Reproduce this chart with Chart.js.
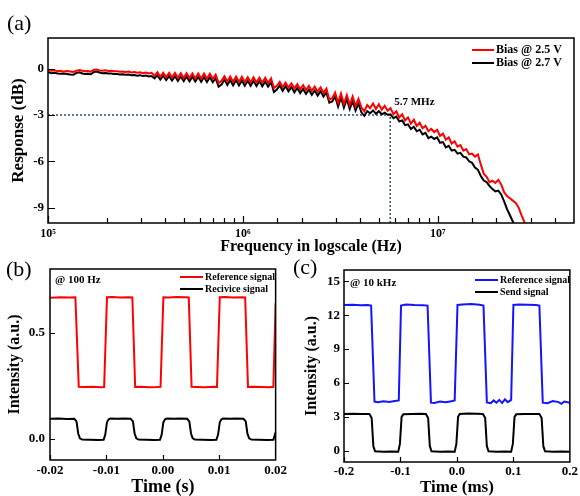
<!DOCTYPE html>
<html>
<head>
<meta charset="utf-8">
<script src="https://cdn.jsdelivr.net/npm/chart.js@4.4.1/dist/chart.umd.min.js"></script>
<style>
  html, body { margin: 0; padding: 0; background: #fff; overflow: hidden; }
  #wrap { position: relative; width: 580px; height: 496px; overflow: hidden; }
  canvas { position: absolute; }
</style>
</head>
<body>
<div id="wrap">
  <canvas id="chartA" width="580" height="258" style="left:0;top:0"></canvas>
  <canvas id="chartB" width="290" height="245" style="left:0;top:255px"></canvas>
  <canvas id="chartC" width="290" height="245" style="left:290px;top:255px"></canvas>
</div>
<script>
// (a) frequency response
const freqKHz = [
  100, 104, 108, 112, 116, 120, 125, 130, 135, 140,
  145, 150, 155, 160, 166, 172, 178, 184, 190, 197,
  204, 211, 218, 226, 234, 242, 250, 259, 268, 277,
  287, 297, 307, 318, 329, 340, 352, 364, 377, 390,
  404, 418, 433, 448, 464, 480, 497, 514, 532, 551,
  570, 590, 611, 632, 654, 677, 701, 725, 751, 777,
  804, 832, 861, 891, 923, 955, 988, 1023, 1059, 1096,
  1134, 1174, 1215, 1258, 1302, 1347, 1395, 1443, 1494, 1546,
  1600, 1656, 1714, 1775, 1837, 1901, 1968, 2037, 2108, 2182,
  2258, 2337, 2419, 2504, 2592, 2683, 2777, 2874, 2974, 3079,
  3187, 3298, 3414, 3533, 3657, 3785, 3918, 4055, 4197, 4344,
  4496, 4654, 4817, 4985, 5160, 5341, 5528, 5721, 5922, 6129,
  6344, 6566, 6796, 7034, 7280, 7535, 7799, 8072, 8355, 8647,
  8950, 9263, 9588, 9924, 10271, 10631, 11003, 11388, 11787, 12199,
  12626, 13068, 13526, 13999, 14489, 14996, 15521, 16065, 16627, 17209,
  17811, 18434, 19080, 19748, 20439, 21154, 21894, 22661, 23454, 24275,
  25125, 26004, 26914, 27856, 28800
];
const bias25Db = [
  -0.05, -0.12, -0.10, -0.15, -0.13, -0.18, -0.14, -0.17, -0.20, -0.12,
  -0.08, -0.13, -0.16, -0.14, -0.18, -0.06, -0.04, -0.10, -0.12, -0.09,
  -0.14, -0.12, -0.16, -0.15, -0.19, -0.17, -0.21, -0.18, -0.23, -0.20,
  -0.25, -0.22, -0.28, -0.24, -0.30, -0.26, -0.45, -0.22, -0.52, -0.25,
  -0.55, -0.26, -0.57, -0.27, -0.58, -0.28, -0.60, -0.28, -0.60, -0.30,
  -0.62, -0.30, -0.63, -0.31, -0.64, -0.32, -0.65, -0.38, -0.92, -0.78,
  -0.48, -0.82, -0.50, -0.84, -0.50, -0.85, -0.52, -0.86, -0.54, -0.88,
  -0.55, -0.89, -0.57, -0.90, -0.58, -0.92, -0.62, -1.25, -1.10, -0.85,
  -1.18, -0.90, -1.22, -0.95, -1.28, -1.00, -1.33, -1.05, -1.38, -1.10,
  -1.43, -1.15, -1.48, -1.20, -1.55, -1.28, -2.00, -1.90, -1.55, -2.20,
  -1.60, -2.28, -1.70, -2.35, -1.80, -2.42, -1.95, -2.50, -2.75, -2.35,
  -2.55, -2.25, -2.60, -2.30, -2.65, -2.40, -2.72, -2.55, -2.95, -2.75,
  -3.15, -2.95, -3.35, -3.15, -3.55, -3.30, -3.70, -3.50, -3.85, -3.70,
  -4.05, -3.90, -4.10, -3.95, -4.35, -4.20, -4.60, -4.45, -4.85, -4.70,
  -5.05, -4.95, -5.30, -5.20, -5.55, -5.50, -5.70, -5.55, -6.20, -6.80,
  -7.00, -7.35, -7.25, -7.40, -7.20, -7.50, -8.00, -8.25, -8.40, -8.55,
  -8.70, -9.00, -9.50, -9.95, -10.30
];
const bias27Db = [
  -0.20, -0.28, -0.25, -0.30, -0.32, -0.30, -0.33, -0.36, -0.38, -0.27,
  -0.22, -0.30, -0.33, -0.32, -0.35, -0.20, -0.18, -0.24, -0.28, -0.27,
  -0.30, -0.31, -0.33, -0.34, -0.36, -0.35, -0.39, -0.37, -0.42, -0.40,
  -0.44, -0.41, -0.47, -0.43, -0.50, -0.47, -0.62, -0.42, -0.70, -0.45,
  -0.73, -0.47, -0.76, -0.48, -0.78, -0.50, -0.80, -0.49, -0.81, -0.51,
  -0.83, -0.52, -0.84, -0.53, -0.86, -0.54, -0.87, -0.60, -1.15, -1.02,
  -0.70, -1.05, -0.72, -1.07, -0.73, -1.08, -0.75, -1.09, -0.77, -1.10,
  -0.78, -1.12, -0.80, -1.13, -0.82, -1.15, -0.86, -1.50, -1.35, -1.08,
  -1.42, -1.12, -1.46, -1.18, -1.52, -1.24, -1.57, -1.30, -1.62, -1.35,
  -1.68, -1.40, -1.73, -1.45, -1.80, -1.52, -2.20, -2.12, -1.80, -2.45,
  -1.85, -2.52, -1.95, -2.60, -2.08, -2.70, -2.25, -2.82, -3.05, -2.75,
  -2.88, -2.70, -2.92, -2.75, -2.95, -2.85, -2.98, -2.95, -3.20, -3.10,
  -3.40, -3.35, -3.65, -3.60, -3.90, -3.75, -4.05, -3.95, -4.25, -4.15,
  -4.50, -4.40, -4.55, -4.45, -4.80, -4.75, -5.10, -5.00, -5.30, -5.25,
  -5.50, -5.45, -5.70, -5.75, -6.00, -6.10, -6.40, -6.55, -6.95, -7.25,
  -7.35, -7.60, -7.80, -7.95, -7.90, -8.15, -8.60, -9.10, -9.50, -9.90,
  -10.30, -10.80, -11.30, -11.80, -12.20
];
const cutoffFreqHz = 5.7e6;
const cutoffDb = -3;
const dbTicks = [0, -3, -6, -9];

// (b) 100 Hz signals (time in s)
const refTimeB = [
  -0.0200, -0.0180, -0.0165, -0.0155, -0.0149, -0.0140, -0.0125, -0.0110, -0.0104, -0.0099,
  -0.0090, -0.0075, -0.0060, -0.0054, -0.0049, -0.0040, -0.0025, -0.0010, -0.0004, 0.0001,
  0.0010, 0.0025, 0.0040, 0.0046, 0.0051, 0.0060, 0.0075, 0.0090, 0.0096, 0.0101,
  0.0110, 0.0125, 0.0140, 0.0146, 0.0151, 0.0160, 0.0175, 0.0190, 0.0196, 0.0200
];
const refSignalB = [
  0.665, 0.667, 0.666, 0.667, 0.245, 0.244, 0.245, 0.243, 0.244, 0.667,
  0.668, 0.666, 0.667, 0.666, 0.244, 0.245, 0.243, 0.244, 0.245, 0.667,
  0.666, 0.668, 0.667, 0.666, 0.245, 0.244, 0.243, 0.245, 0.244, 0.667,
  0.668, 0.666, 0.667, 0.666, 0.244, 0.245, 0.244, 0.243, 0.245, 0.640
];
const recvTimeB = [
  -0.0200, -0.0185, -0.0170, -0.0157, -0.0153, -0.0150, -0.0147, -0.0143, -0.0130, -0.0115,
  -0.0105, -0.0102, -0.0099, -0.0096, -0.0093, -0.0080, -0.0070, -0.0057, -0.0053, -0.0050,
  -0.0047, -0.0043, -0.0030, -0.0015, -0.0005, -0.0002, 0.0001, 0.0004, 0.0007, 0.0020,
  0.0030, 0.0043, 0.0047, 0.0050, 0.0053, 0.0057, 0.0070, 0.0085, 0.0095, 0.0098,
  0.0101, 0.0104, 0.0107, 0.0120, 0.0130, 0.0143, 0.0147, 0.0150, 0.0153, 0.0157,
  0.0170, 0.0185, 0.0196, 0.0200
];
const recvSignalB = [
  0.094, 0.095, 0.093, 0.094, 0.082, 0.025, 0.002, -0.004, -0.005, -0.006,
  -0.005, 0.020, 0.078, 0.092, 0.095, 0.094, 0.095, 0.094, 0.082, 0.025,
  0.002, -0.004, -0.005, -0.006, -0.005, 0.020, 0.078, 0.092, 0.095, 0.094,
  0.095, 0.094, 0.082, 0.025, 0.002, -0.004, -0.005, -0.006, -0.005, 0.020,
  0.078, 0.092, 0.095, 0.094, 0.095, 0.094, 0.082, 0.025, 0.002, -0.004,
  -0.005, -0.006, -0.005, 0.030
];
const intensityTicksB = [0, 0.5];

// (c) 10 kHz signals (time in ms)
const refTimeC = [
  -0.200, -0.185, -0.170, -0.158, -0.152, -0.146, -0.140, -0.130, -0.120, -0.110,
  -0.103, -0.099, -0.090, -0.075, -0.060, -0.052, -0.046, -0.040, -0.030, -0.020,
  -0.010, -0.004, 0.001, 0.010, 0.025, 0.040, 0.047, 0.053, 0.060, 0.065,
  0.070, 0.075, 0.080, 0.085, 0.090, 0.096, 0.100, 0.110, 0.125, 0.140,
  0.146, 0.152, 0.160, 0.170, 0.180, 0.185, 0.190, 0.200
];
const refSignalC = [
  12.90, 12.92, 12.88, 12.90, 12.85, 4.35, 4.30, 4.38, 4.32, 4.40,
  4.45, 12.85, 12.95, 12.90, 12.88, 12.85, 4.25, 4.22, 4.35, 4.30,
  4.38, 4.45, 12.90, 12.95, 12.98, 12.92, 12.85, 4.28, 4.20, 4.45,
  4.25, 4.50, 4.22, 4.55, 4.30, 4.50, 12.90, 12.95, 12.92, 12.90,
  12.85, 4.25, 4.20, 4.40, 4.30, 4.15, 4.35, 4.25
];
const sendTimeC = [
  -0.200, -0.185, -0.170, -0.155, -0.151, -0.148, -0.145, -0.130, -0.115, -0.104,
  -0.101, -0.098, -0.095, -0.080, -0.065, -0.055, -0.051, -0.048, -0.045, -0.030,
  -0.015, -0.004, -0.001, 0.002, 0.005, 0.020, 0.035, 0.046, 0.050, 0.053,
  0.056, 0.070, 0.085, 0.096, 0.099, 0.102, 0.105, 0.120, 0.135, 0.146,
  0.150, 0.153, 0.156, 0.170, 0.185, 0.200
];
const sendSignalC = [
  3.25, 3.28, 3.26, 3.25, 2.90, 0.40, -0.05, -0.10, -0.08, -0.10,
  0.60, 3.00, 3.22, 3.25, 3.28, 3.25, 2.90, 0.40, -0.05, -0.10,
  -0.08, -0.10, 0.60, 3.00, 3.25, 3.30, 3.28, 3.25, 2.90, 0.40,
  -0.05, -0.10, -0.08, -0.10, 0.60, 3.00, 3.22, 3.25, 3.26, 3.25,
  2.90, 0.40, -0.05, -0.10, -0.08, -0.10
];
const intensityTicksC = [0, 3, 6, 9, 12, 15];

const SERIF = '"Liberation Serif", "Times New Roman", serif';
Chart.defaults.font.family = SERIF;
Chart.defaults.color = "#000";
const SUP = ["⁰", "¹", "²", "³", "⁴", "⁵", "⁶", "⁷", "⁸", "⁹"];

function pairs(xs, ys, scaleX) {
  return xs.map((x, i) => ({ x: x * (scaleX || 1), y: ys[i] }));
}

// box around the plot + inward tick marks
const frame = {
  id: "frame",
  afterDatasetsDraw(chart, args, opts) {
    const { ctx, chartArea: a } = chart;
    const sx = chart.scales.x;
    const sy = chart.scales.y;
    ctx.save();
    ctx.strokeStyle = "#000";
    ctx.lineWidth = 1.5;
    ctx.strokeRect(a.left, a.top, a.right - a.left, a.bottom - a.top);
    ctx.lineWidth = 1.2;
    ctx.beginPath();
    sx.ticks.forEach((t) => {
      const px = Math.round(sx.getPixelForValue(t.value)) + 0.5;
      if (px < a.left || px > a.right) return;
      const len = t.label ? opts.majorLen : opts.minorLen;
      ctx.moveTo(px, a.bottom);
      ctx.lineTo(px, a.bottom - len);
    });
    sy.ticks.forEach((t) => {
      const py = Math.round(sy.getPixelForValue(t.value)) + 0.5;
      ctx.moveTo(a.left, py);
      ctx.lineTo(a.left + opts.majorLen, py);
    });
    ctx.stroke();
    ctx.restore();
  },
};

// legend drawn inside the plot, plus free text
const key = {
  id: "key",
  afterDraw(chart, args, opts) {
    const ctx = chart.ctx;
    ctx.save();
    ctx.textBaseline = "middle";
    ctx.textAlign = "left";
    chart.data.datasets
      .filter((d) => d.label)
      .forEach((d, i) => {
        const y = opts.y + i * opts.gap;
        ctx.strokeStyle = d.borderColor;
        ctx.lineWidth = 2;
        ctx.beginPath();
        ctx.moveTo(opts.x, y);
        ctx.lineTo(opts.x + opts.len, y);
        ctx.stroke();
        ctx.fillStyle = "#000";
        ctx.font = opts.font;
        ctx.fillText(d.label, opts.x + opts.len + 2, y);
      });
    (opts.notes || []).forEach((n) => {
      ctx.font = n.font;
      ctx.fillStyle = "#000";
      ctx.fillText(n.text, n.x, n.y);
    });
    ctx.restore();
  },
};

// "5.7 MHz" placed next to the -3 dB point
const cutoffText = {
  id: "cutoffText",
  afterDatasetsDraw(chart, args, opts) {
    const ctx = chart.ctx;
    const x = chart.scales.x.getPixelForValue(cutoffFreqHz);
    const y = chart.scales.y.getPixelForValue(cutoffDb);
    ctx.save();
    ctx.font = opts.font;
    ctx.fillStyle = "#000";
    ctx.textBaseline = "middle";
    ctx.fillText((cutoffFreqHz / 1e6).toFixed(1) + " MHz", x + opts.dx, y + opts.dy);
    ctx.restore();
  },
};

function yAxis(min, max, tickList, width, title, titleSize, titlePad, tickPad, fmt) {
  return {
    type: "linear",
    min: min,
    max: max,
    afterBuildTicks: (s) => { s.ticks = tickList.map((v) => ({ value: v })); },
    afterFit: (s) => { s.width = width; },
    grid: { display: false, drawTicks: false },
    border: { display: false },
    ticks: {
      padding: tickPad,
      font: { size: 13, weight: "bold" },
      callback: fmt,
    },
    title: {
      display: true,
      text: title,
      font: { size: titleSize, weight: "bold" },
      padding: { top: titlePad, bottom: 0 },
    },
  };
}

// ---------- (a)
new Chart(document.getElementById("chartA"), {
  type: "line",
  data: {
    datasets: [
      {
        label: "Bias @ 2.5 V",
        data: pairs(freqKHz, bias25Db, 1000),
        borderColor: "#ff0000",
        borderWidth: 2,
        pointRadius: 0,
      },
      {
        label: "Bias @ 2.7 V",
        data: pairs(freqKHz, bias27Db, 1000),
        borderColor: "#000000",
        borderWidth: 2,
        pointRadius: 0,
      },
      {
        data: [
          { x: 1e5, y: cutoffDb },
          { x: cutoffFreqHz, y: cutoffDb },
          { x: cutoffFreqHz, y: -10 },
        ],
        borderColor: "#2d4d80",
        borderWidth: 1.5,
        borderDash: [2, 2],
        pointRadius: 0,
      },
    ],
  },
  options: {
    responsive: false,
    animation: false,
    devicePixelRatio: 1,
    layout: { padding: { top: 38, right: 6, left: 0, bottom: 0 } },
    scales: {
      x: {
        type: "logarithmic",
        min: 1e5,
        max: 5e7,
        afterFit: (s) => { s.height = 35; },
        grid: { display: false, drawTicks: false },
        border: { display: false },
        ticks: {
          autoSkip: false,
          maxRotation: 0,
          padding: 4,
          font: { size: 12, weight: "bold" },
          callback: (v) => {
            const e = Math.log10(v);
            return Math.abs(e - Math.round(e)) < 1e-9 ? "10" + SUP[Math.round(e)] : "";
          },
        },
        title: {
          display: true,
          text: "Frequency in logscale (Hz)",
          font: { size: 16, weight: "bold" },
          padding: { top: 0, bottom: 2 },
        },
      },
      y: yAxis(-10, 2, dbTicks, 48, "Response (dB)", 17, 8, 4, (v) => String(v)),
    },
    plugins: {
      legend: { display: false },
      tooltip: { enabled: false },
      frame: { majorLen: 7, minorLen: 5 },
      key: {
        x: 472,
        y: 50,
        gap: 13,
        len: 22,
        font: "bold 12px " + SERIF,
        notes: [{ text: "(a)", x: 7, y: 24, font: "22px " + SERIF }],
      },
      cutoffText: { dx: 4, dy: -13, font: "bold 11px " + SERIF },
    },
  },
  plugins: [frame, key, cutoffText],
});

// ---------- (b)
new Chart(document.getElementById("chartB"), {
  type: "line",
  data: {
    datasets: [
      {
        label: "Reference signal",
        data: pairs(refTimeB, refSignalB),
        borderColor: "#ff0000",
        borderWidth: 2,
        pointRadius: 0,
      },
      {
        label: "Recivice signal",
        data: pairs(recvTimeB, recvSignalB),
        borderColor: "#000000",
        borderWidth: 2,
        pointRadius: 0,
      },
    ],
  },
  options: {
    responsive: false,
    animation: false,
    devicePixelRatio: 1,
    layout: { padding: { top: 14, right: 14, left: 0, bottom: 0 } },
    scales: {
      x: {
        type: "linear",
        min: -0.02,
        max: 0.02,
        afterFit: (s) => { s.height = 40; },
        grid: { display: false, drawTicks: false },
        border: { display: false },
        ticks: {
          stepSize: 0.01,
          padding: 3,
          font: { size: 13, weight: "bold" },
          callback: (v) => Number(v).toFixed(2),
        },
        title: {
          display: true,
          text: "Time (s)",
          font: { size: 18, weight: "bold" },
          padding: { top: 0, bottom: 2 },
        },
      },
      y: yAxis(-0.1, 0.8, intensityTicksB, 50, "Intensity (a.u.)", 16, 5, 5, (v) => Number(v).toFixed(1)),
    },
    plugins: {
      legend: { display: false },
      tooltip: { enabled: false },
      frame: { majorLen: 5, minorLen: 5 },
      key: {
        x: 180,
        y: 22,
        gap: 12,
        len: 23,
        font: "bold 10px " + SERIF,
        notes: [
          { text: "(b)", x: 6, y: 15, font: "22px " + SERIF },
          { text: "@ 100 Hz", x: 55, y: 25, font: "bold 11px " + SERIF },
        ],
      },
    },
  },
  plugins: [frame, key],
});

// ---------- (c)
new Chart(document.getElementById("chartC"), {
  type: "line",
  data: {
    datasets: [
      {
        label: "Reference signal",
        data: pairs(refTimeC, refSignalC),
        borderColor: "#1414ff",
        borderWidth: 2,
        pointRadius: 0,
      },
      {
        label: "Send signal",
        data: pairs(sendTimeC, sendSignalC),
        borderColor: "#000000",
        borderWidth: 2,
        pointRadius: 0,
      },
    ],
  },
  options: {
    responsive: false,
    animation: false,
    devicePixelRatio: 1,
    layout: { padding: { top: 15, right: 7, left: 0, bottom: 0 } },
    scales: {
      x: {
        type: "linear",
        min: -0.2,
        max: 0.2,
        afterFit: (s) => { s.height = 38; },
        grid: { display: false, drawTicks: false },
        border: { display: false },
        ticks: {
          stepSize: 0.1,
          padding: 2,
          font: { size: 13, weight: "bold" },
          callback: (v) => Number(v).toFixed(1),
        },
        title: {
          display: true,
          text: "Time (ms)",
          font: { size: 17, weight: "bold" },
          padding: { top: 0, bottom: 2 },
        },
      },
      y: yAxis(-1, 16, intensityTicksC, 54, "Intensity (a.u.)", 16, 12, 4, (v) => String(v)),
    },
    plugins: {
      legend: { display: false },
      tooltip: { enabled: false },
      frame: { majorLen: 5, minorLen: 5 },
      key: {
        x: 185,
        y: 25,
        gap: 12,
        len: 23,
        font: "bold 10px " + SERIF,
        notes: [
          { text: "(c)", x: 3, y: 13, font: "22px " + SERIF },
          { text: "@ 10 kHz", x: 60, y: 28, font: "bold 11px " + SERIF },
        ],
      },
    },
  },
  plugins: [frame, key],
});
</script>
</body>
</html>
